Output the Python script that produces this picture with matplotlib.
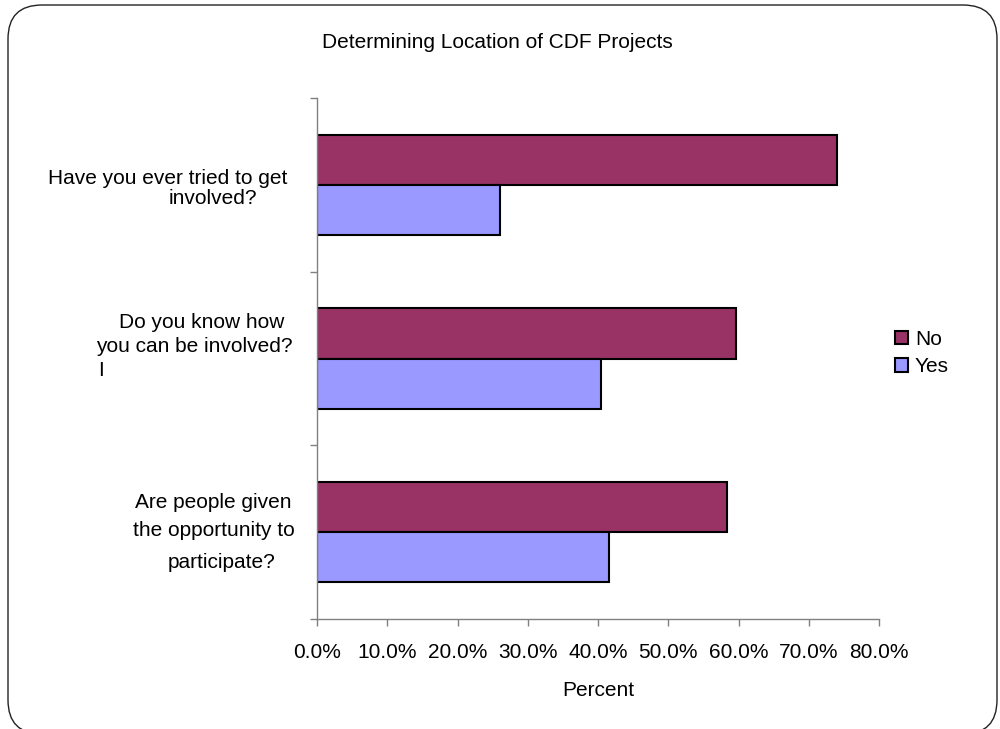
import matplotlib
matplotlib.use("Agg")
import matplotlib.pyplot as plt
import numpy as np
from matplotlib.patches import FancyBboxPatch
from matplotlib.transforms import IdentityTransform
from matplotlib.ticker import FuncFormatter, MultipleLocator

plt.rcParams['font.family'] = ['Liberation Sans', 'DejaVu Sans']

# Survey data
title = "Determining Location of CDF Projects"
questions = [
    ["Have you ever tried to get", "involved?"],
    ["Do you know how", "you can be involved?", "I"],
    ["Are people given", "the opportunity to", "participate?"],
]
series_names = ["No", "Yes"]
no_pct = [74.0, 59.6, 58.4]
yes_pct = [26.0, 40.4, 41.6]
x_label = "Percent"
x_max = 80.0

no_color = "#993366"
yes_color = "#9999FF"
axis_gray = "#808080"

W, H = 1000, 729
fig = plt.figure(figsize=(W / 100, H / 100), dpi=100)
fig.patch.set_facecolor("white")

# rounded frame around the chart area (display pixels, origin bottom-left)
frame = FancyBboxPatch((8, H - 734), 989, 729, boxstyle="round,pad=0,rounding_size=34",
                       transform=IdentityTransform(), facecolor="none",
                       edgecolor="#222222", linewidth=1.0, clip_on=False)
fig.patches.append(frame)

ax = fig.add_axes([317 / W, 1 - 619 / H, (879 - 317) / W, (619 - 98) / H])

y = np.arange(len(questions))
h = 0.288
bar_kw = dict(edgecolor="black", linewidth=1.5)
b_no = ax.barh(y - h / 2, no_pct, height=h, color=no_color, label=series_names[0], **bar_kw)
b_yes = ax.barh(y + h / 2, yes_pct, height=h, color=yes_color, label=series_names[1], **bar_kw)

ax.set_xlim(0, x_max)
ax.set_ylim(len(questions) - 0.5, -0.5)
ax.xaxis.set_major_locator(MultipleLocator(10))
ax.xaxis.set_major_formatter(FuncFormatter(lambda v, p: f"{v:.1f}%"))
ax.set_yticks(np.arange(-0.5, len(questions), 1.0))
ax.set_yticklabels([])

for s in ["top", "right"]:
    ax.spines[s].set_visible(False)
for s in ["left", "bottom"]:
    ax.spines[s].set_color(axis_gray)
    ax.spines[s].set_linewidth(1.0)
ax.tick_params(axis="both", direction="out", length=5, width=1.0, color=axis_gray)
ax.tick_params(axis="x", labelsize=15, pad=12)
ax.set_xlabel(x_label, fontsize=15, labelpad=14)

# category labels, one text per line
line_pos = [
    [(48, 178), (169, 198)],
    [(119, 322), (96, 346), (98, 370)],
    [(135, 502), (133, 531), (168, 562)],
]
for lines, pos in zip(questions, line_pos):
    for txt, (px, py) in zip(lines, pos):
        fig.text(px / W, 1 - py / H, txt, fontsize=15, ha="left", va="center")

fig.text(497 / W, 1 - 43 / H, title, fontsize=15, ha="center", va="center")

leg = fig.legend(handles=[b_no, b_yes], labels=series_names, loc="center left",
                 bbox_to_anchor=(895 / W, 1 - 353 / H), frameon=False, fontsize=15,
                 handlelength=0.6, handleheight=0.6, handletextpad=0.35, labelspacing=0.42,
                 borderaxespad=0, borderpad=0)

fig.savefig("out.png", dpi=100, facecolor="white")
